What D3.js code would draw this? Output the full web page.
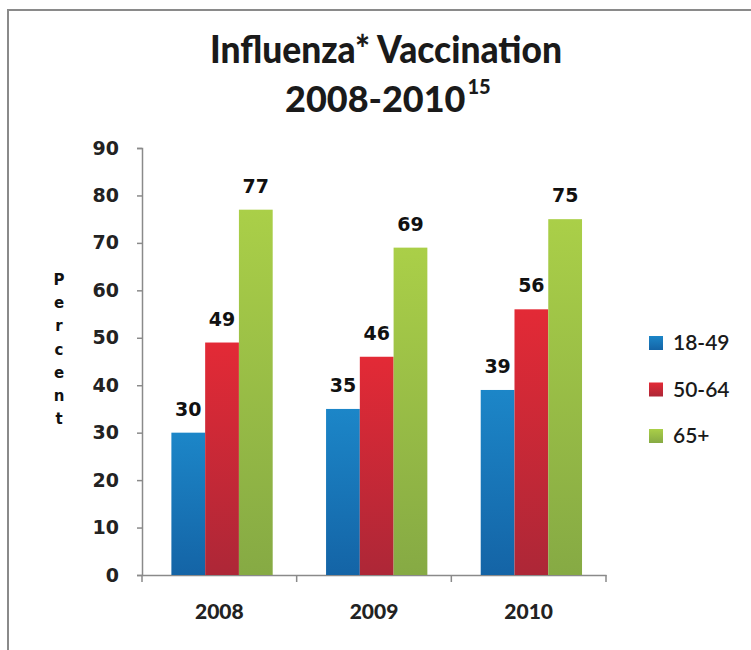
<!DOCTYPE html>
<html><head><meta charset="utf-8">
<script src="https://cdn.jsdelivr.net/npm/d3@7"></script>
<style>body{margin:0;background:#fff}svg{display:block}</style>
</head><body>
<svg id="c" width="751" height="650"></svg>
<script>
const years = ["2008", "2009", "2010"];
const groups = ["18-49", "50-64", "65+"];
const v1849 = [30, 35, 39];
const v5064 = [49, 46, 56];
const v65 = [77, 69, 75];
const yTicks = [0, 10, 20, 30, 40, 50, 60, 70, 80, 90];
const seriesValues = [v1849, v5064, v65];
const colTop = ["#1c86c8", "#e32a36", "#aacf48"];
const colBot = ["#1464a6", "#ad2737", "#86aa44"];

const svg = d3.select("#c");
const defs = svg.append("defs");
groups.forEach((g, i) => {
  const lg = defs.append("linearGradient").attr("id", "g" + i).attr("x1", 0).attr("y1", 0).attr("x2", 0).attr("y2", 1);
  lg.append("stop").attr("offset", "0%").attr("stop-color", colTop[i]);
  lg.append("stop").attr("offset", "100%").attr("stop-color", colBot[i]);
});

// frame
svg.append("line").attr("x1", 7).attr("x2", 751).attr("y1", 10).attr("y2", 10).attr("stroke", "#8a8a8a").attr("stroke-width", 2);
svg.append("line").attr("x1", 8).attr("x2", 8).attr("y1", 9).attr("y2", 650).attr("stroke", "#8a8a8a").attr("stroke-width", 2);

// title
svg.append("text").attr("x", 386).attr("y", 63).attr("text-anchor", "middle")
  .attr("font-family", "Lato").attr("font-weight", 900).attr("font-size", 37).attr("fill", "#1a1a1a")
  .attr("textLength", 352).attr("lengthAdjust", "spacingAndGlyphs")
  .text("Influenza* Vaccination");
const main2 = svg.append("text").attr("x", 285).attr("y", 112)
  .attr("font-family", "Lato").attr("font-weight", 900).attr("font-size", 36).attr("fill", "#1a1a1a")
  .text("2008-2010");
const w2 = main2.node().getComputedTextLength();
svg.append("text").attr("x", 285 + w2 + 2).attr("y", 94)
  .attr("font-family", "Lato").attr("font-weight", 900).attr("font-size", 20).attr("fill", "#1a1a1a")
  .text("15");

const x0 = 142, x1 = 606, yTop = 148, yBot = 575;
const x = d3.scaleBand().domain(years).range([x0, x1]).padding(0);
const xs = d3.scaleBand().domain(groups).range([x.bandwidth() * 0.19, x.bandwidth() * 0.845]).padding(0);
const y = d3.scaleLinear().domain([0, 90]).range([yBot, yTop]);

// y axis
const ya = svg.append("g").attr("transform", `translate(${x0},0)`)
  .call(d3.axisLeft(y).tickValues(yTicks).tickSize(5).tickPadding(18));
ya.select(".domain").attr("stroke", "#8a8a8a").attr("stroke-width", 1.5);
ya.selectAll(".tick line").attr("stroke", "#8a8a8a").attr("stroke-width", 1.5);
ya.selectAll(".tick text").attr("font-family", "DejaVu Sans").attr("font-weight", "bold").attr("font-size", 19).attr("fill", "#222");

// x axis
const xa = svg.append("g").attr("transform", `translate(0,${yBot})`)
  .call(d3.axisBottom(x).tickSize(0).tickPadding(29));
xa.select(".domain").attr("stroke", "#8a8a8a").attr("stroke-width", 1.5);
xa.selectAll(".tick text").attr("font-family", "Lato").attr("font-weight", 900).attr("font-size", 21).attr("fill", "#222");
const bounds = years.map(d => x(d)).concat([x1]);
svg.append("g").selectAll("line").data(bounds).join("line")
  .attr("x1", d => d).attr("x2", d => d).attr("y1", yBot).attr("y2", yBot + 7)
  .attr("stroke", "#8a8a8a").attr("stroke-width", 1.5);

// y label
const pl = "Percent".split("");
svg.append("g").selectAll("text").data(pl).join("text")
  .attr("x", 59).attr("y", (d, i) => 285 + i * 23.2).attr("text-anchor", "middle")
  .attr("font-family", "DejaVu Sans").attr("font-weight", "bold").attr("font-size", 15).attr("fill", "#111")
  .text(d => d);

// bars
const bg = svg.append("g");
years.forEach((yr, j) => {
  groups.forEach((g, i) => {
    const v = seriesValues[i][j];
    const bx = x(yr) + xs(g);
    bg.append("rect").attr("x", bx).attr("y", y(v)).attr("width", xs.bandwidth()).attr("height", yBot - y(v))
      .attr("fill", `url(#g${i})`);
    bg.append("text").attr("x", bx + xs.bandwidth() / 2).attr("y", y(v) - 17).attr("text-anchor", "middle")
      .attr("font-family", "DejaVu Sans").attr("font-weight", "bold").attr("font-size", 19).attr("fill", "#111")
      .text(v);
  });
});

// legend
const lg = svg.append("g");
groups.forEach((g, i) => {
  const cy = 343 + i * 46.5;
  lg.append("rect").attr("x", 649).attr("y", cy - 7).attr("width", 14).attr("height", 14).attr("fill", `url(#g${i})`);
  lg.append("text").attr("x", 673).attr("y", cy + 7).attr("font-family", "Lato").attr("font-weight", 600).attr("font-size", 21).attr("fill", "#1a1a1a").text(g);
});
</script>
</body></html>
